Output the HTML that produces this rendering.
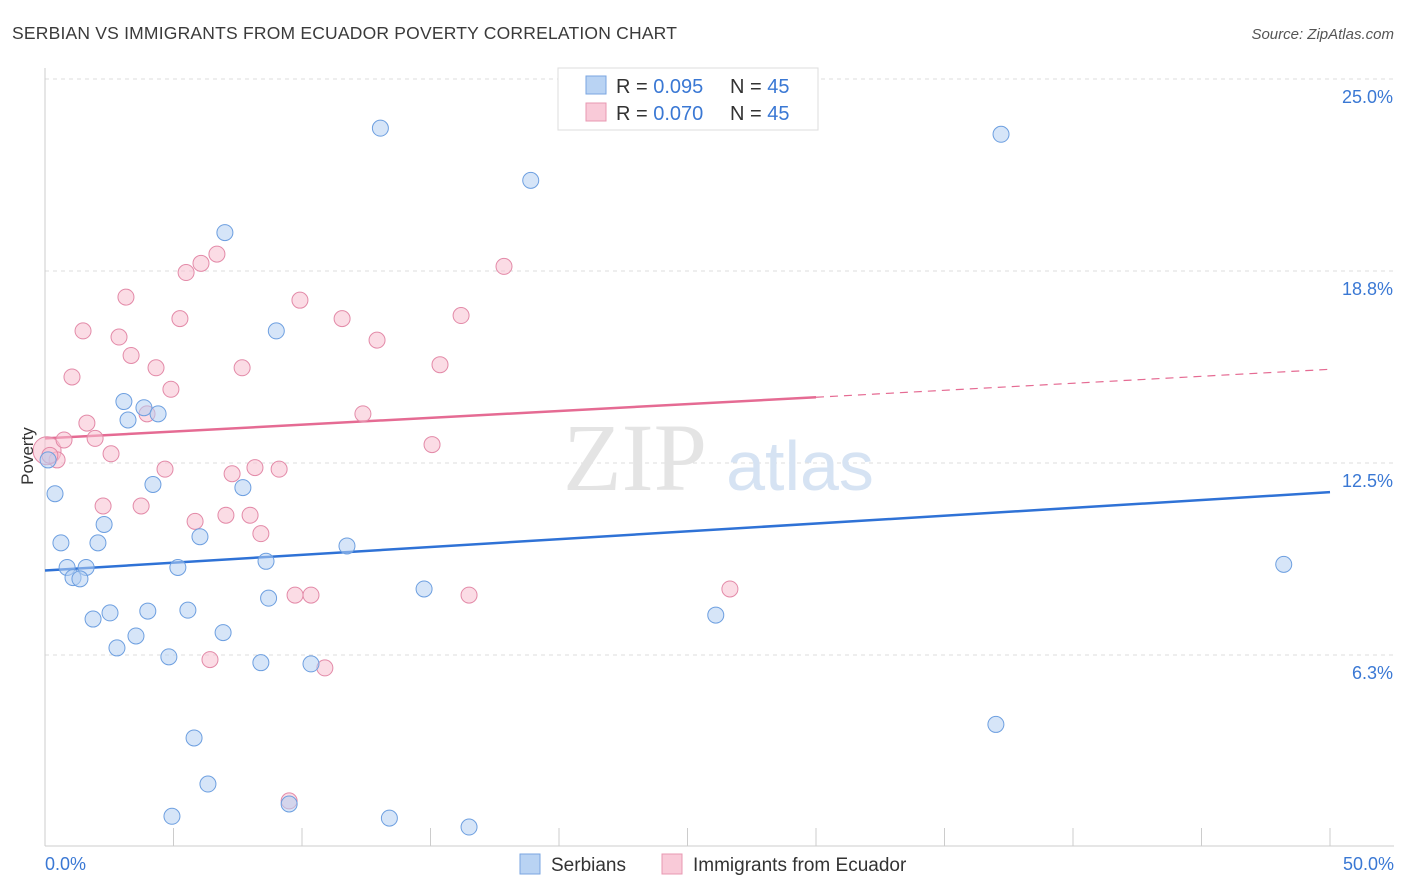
<!DOCTYPE html>
<html><head><meta charset="utf-8"><style>
body{margin:0;background:#fff;font-family:"Liberation Sans",sans-serif}
svg{display:block}
</style></head><body>
<svg id="chart" width="1406" height="892">
<text x="12" y="39" font-size="17.5" fill="#3a3a3a" letter-spacing="0.2">SERBIAN VS IMMIGRANTS FROM ECUADOR POVERTY CORRELATION CHART</text>
<text x="1394" y="39" font-size="15" fill="#555" font-style="italic" text-anchor="end">Source: ZipAtlas.com</text>
<g id="grid"></g>
<text x="635" y="490" font-size="96" fill="#e4e4e4" font-family="Liberation Serif" text-anchor="middle">ZIP</text>
<text x="800" y="490" font-size="70" fill="#d6e3f3" text-anchor="middle">atlas</text>
<g id="lines"></g>
<g id="pts"></g>
<text x="33" y="456" font-size="17" fill="#333" text-anchor="middle" transform="rotate(-90 33 456)">Poverty</text>
<g>
<rect x="558" y="68" width="260" height="62" fill="#fff" stroke="#ddd"/>
<rect x="586" y="76" width="20" height="18" fill="#b9d3f3" stroke="#7aa6e0"/>
<text x="616" y="93" font-size="20" fill="#333">R = <tspan fill="#3a78d4">0.095</tspan></text>
<text x="730" y="93" font-size="20" fill="#333">N = <tspan fill="#3a78d4">45</tspan></text>
<rect x="586" y="103" width="20" height="18" fill="#f9cad8" stroke="#e898b2"/>
<text x="616" y="120" font-size="20" fill="#333">R = <tspan fill="#3a78d4">0.070</tspan></text>
<text x="730" y="120" font-size="20" fill="#333">N = <tspan fill="#3a78d4">45</tspan></text>
</g>
<g>
<rect x="520" y="854" width="20" height="20" fill="#b9d3f3" stroke="#7aa6e0"/>
<text x="551" y="871" font-size="19" fill="#333">Serbians</text>
<rect x="662" y="854" width="20" height="20" fill="#f9cad8" stroke="#e898b2"/>
<text x="693" y="871" font-size="19" fill="#333">Immigrants from Ecuador</text>
</g>
</svg>
<script>
const yTicks=[6.3,12.5,18.8,25.0];
const xLabels=["0.0%","50.0%"];
const serbX=[13.05,18.9,37.2,7.0,9.0,3.07,3.85,4.4,3.23,4.2,7.7,0.39,2.3,0.62,2.06,6.03,11.75,8.6,5.17,0.86,1.6,1.09,1.36,14.75,8.7,2.53,4.0,5.56,1.87,26.1,48.2,6.93,3.54,2.8,4.82,8.4,10.35,37.0,5.8,6.34,4.94,9.5,13.4,16.5,0.12];
const serbY=[23.4,21.7,23.2,20.0,16.8,14.5,14.3,14.1,13.9,11.8,11.7,11.5,10.5,9.9,9.9,10.1,9.8,9.3,9.1,9.1,9.1,8.77,8.73,8.4,8.1,7.62,7.68,7.71,7.42,7.55,9.2,6.98,6.87,6.48,6.19,6.0,5.96,3.99,3.55,2.05,1.0,1.4,0.94,0.65,12.6];
const ecuX=[0.08,0.47,0.74,1.95,1.05,1.48,3.15,2.88,3.35,4.32,4.9,5.49,6.07,6.69,5.25,3.97,1.63,2.57,4.67,2.26,3.74,5.84,7.04,7.28,7.98,8.17,9.11,8.4,7.67,9.92,11.56,12.92,12.37,15.06,15.37,16.19,17.86,9.73,10.35,16.5,26.65,6.42,10.89,9.5,0.19];
const ecuY=[12.9,12.6,13.25,13.3,15.3,16.8,17.9,16.6,16.0,15.6,14.9,18.7,19.0,19.3,17.2,14.1,13.8,12.8,12.3,11.1,11.1,10.6,10.8,12.15,10.8,12.35,12.3,10.2,15.6,17.8,17.2,16.5,14.1,13.1,15.7,17.3,18.9,8.2,8.2,8.2,8.4,6.1,5.83,1.5,12.75];
const serbTrend=[9.0,11.55];
const ecuTrend=[13.3,14.64,15.55];
const NS="http://www.w3.org/2000/svg";
const X=v=>45+v/50*1285, Y=v=>847-v*30.72;
function mk(t,a,p){const e=document.createElementNS(NS,t);for(const k in a)e.setAttribute(k,a[k]);p.appendChild(e);return e;}
const grid=document.getElementById('grid');
for(const t of yTicks){
 const gv=t===6.3?6.25:t===18.8?18.75:t;
 const l=mk('line',{x1:45,x2:1394,y1:Y(gv),y2:Y(gv),stroke:'#ddd','stroke-dasharray':'4,4'},grid);
 
 
 const tx=mk('text',{x:1393,y:Y(gv)+24,'font-size':18,fill:'#3a78d4','text-anchor':'end'},grid);
 tx.textContent=t.toFixed(1)+'%';
 
 
}
mk('line',{x1:45,x2:45,y1:68,y2:846,stroke:'#ccc'},grid);
mk('line',{x1:45,x2:1394,y1:846,y2:846,stroke:'#ccc'},grid);
for(let i=0;i<=10;i++){const x=X(i*5);const l=mk('line',{x1:x,x2:x,y1:828,y2:846,stroke:'#ccc'},grid);
 
 }
const xl0=mk('text',{x:45,y:870,'font-size':18,fill:'#3a78d4'},grid);xl0.textContent=xLabels[0];


const xl1=mk('text',{x:1394,y:870,'font-size':18,fill:'#3a78d4','text-anchor':'end'},grid);xl1.textContent=xLabels[1];


const pts=document.getElementById('pts');
function dots(xs,ys,fill,stroke,name,big){xs.forEach((x,i)=>{const c=mk('circle',{cx:X(x),cy:Y(ys[i]),r:(big&&i===0)?14:8,fill:fill,stroke:stroke,'stroke-width':1,'fill-opacity':0.55},pts);
 
 });}
dots(ecuX,ecuY,'#f7bfd0','#e38aa8','ecuador-point',true);
dots(serbX,serbY,'#b4cff2','#6d9fe0','serbian-point',false);
const ln=document.getElementById('lines');
const b=mk('line',{x1:X(0),y1:Y(serbTrend[0]),x2:X(50),y2:Y(serbTrend[1]),stroke:'#2f72d6','stroke-width':2.5},ln);


const p1=mk('line',{x1:X(0),y1:Y(ecuTrend[0]),x2:X(30),y2:Y(ecuTrend[1]),stroke:'#e56b93','stroke-width':2.5},ln);


const p2=mk('line',{x1:X(30),y1:Y(ecuTrend[1]),x2:X(50),y2:Y(ecuTrend[2]),stroke:'#e56b93','stroke-width':1.2,'stroke-dasharray':'8,6'},ln);


</script>
</body></html>
